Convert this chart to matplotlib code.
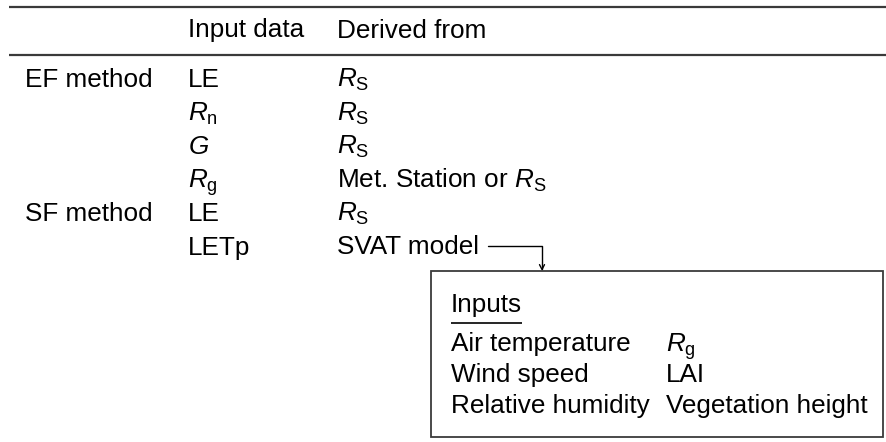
import matplotlib
matplotlib.use('Agg')
import matplotlib.pyplot as plt
from matplotlib.patches import Rectangle
from matplotlib import _mathtext

plt.rcParams['font.family'] = ['Liberation Sans', 'DejaVu Sans']
plt.rcParams['mathtext.fontset'] = 'custom'
plt.rcParams['mathtext.rm'] = 'Liberation Sans'
plt.rcParams['mathtext.it'] = 'Liberation Sans:italic'
plt.rcParams['mathtext.sf'] = 'Liberation Sans'
# subscripts sit a bit lower in the original
_mathtext.FontConstantsBase.subdrop = 0.45

# table content
HEADERS = ['', 'Input data', 'Derived from']
METHODS = ['EF method', '', '', '', 'SF method', '']
INPUTS = ['LE', r'$R_\mathrm{n}$', r'$G$', r'$R_\mathrm{g}$', 'LE', 'LETp']
DERIVED = [r'$R_\mathrm{S}$', r'$R_\mathrm{S}$', r'$R_\mathrm{S}$',
           r'Met. Station or $R_\mathrm{S}$', r'$R_\mathrm{S}$', 'SVAT model']
BOX_TITLE = 'Inputs'
BOX_LEFT = ['Air temperature', 'Wind speed', 'Relative humidity']
BOX_RIGHT = [r'$R_\mathrm{g}$', 'LAI', 'Vegetation height']

FS = 18.8
LINE_COLOR = '#3a3a3a'

fig = plt.figure(figsize=(8.86, 4.42), dpi=100)
ax = fig.add_axes([0, 0, 1, 1])
ax.set_xlim(0, 886)
ax.set_ylim(442, 0)
ax.axis('off')

col_x = [25, 188, 337]

# rules
ax.plot([9, 886], [7, 7], color=LINE_COLOR, lw=1.6, solid_capstyle='butt')
ax.plot([9, 886], [55, 55], color=LINE_COLOR, lw=1.6, solid_capstyle='butt')

for x, h in zip(col_x, HEADERS):
    ax.text(x, 37.5, h, fontsize=FS, va='baseline', ha='left')

y0, step = 87, 33.5
for i, (m, inp, der) in enumerate(zip(METHODS, INPUTS, DERIVED)):
    y = y0 + i * step
    ax.text(col_x[0], y, m, fontsize=FS, va='baseline', ha='left')
    ax.text(col_x[1], y, inp, fontsize=FS, va='baseline', ha='left')
    ax.text(col_x[2], y, der, fontsize=FS, va='baseline', ha='left')

# arrow from SVAT model to the box
ax.annotate('', xy=(542, 271), xytext=(488, 246),
            arrowprops=dict(arrowstyle='->,head_length=0.35,head_width=0.18',
                            connectionstyle='angle,angleA=0,angleB=90,rad=0',
                            color='black', lw=1.0, shrinkA=0, shrinkB=0))

# inputs box
ax.add_patch(Rectangle((431, 271), 883 - 431, 437 - 271, fill=False,
                       edgecolor=LINE_COLOR, lw=1.3))
ax.text(451, 312, BOX_TITLE, fontsize=FS, va='baseline', ha='left')
ax.plot([451, 522], [323, 323], color='black', lw=1.2, solid_capstyle='butt')

by0, bstep = 351.5, 30.5
for i, (l, r) in enumerate(zip(BOX_LEFT, BOX_RIGHT)):
    y = by0 + i * bstep
    ax.text(451, y, l, fontsize=FS, va='baseline', ha='left')
    ax.text(666, y, r, fontsize=FS, va='baseline', ha='left')

fig.savefig('out.png', dpi=100)
